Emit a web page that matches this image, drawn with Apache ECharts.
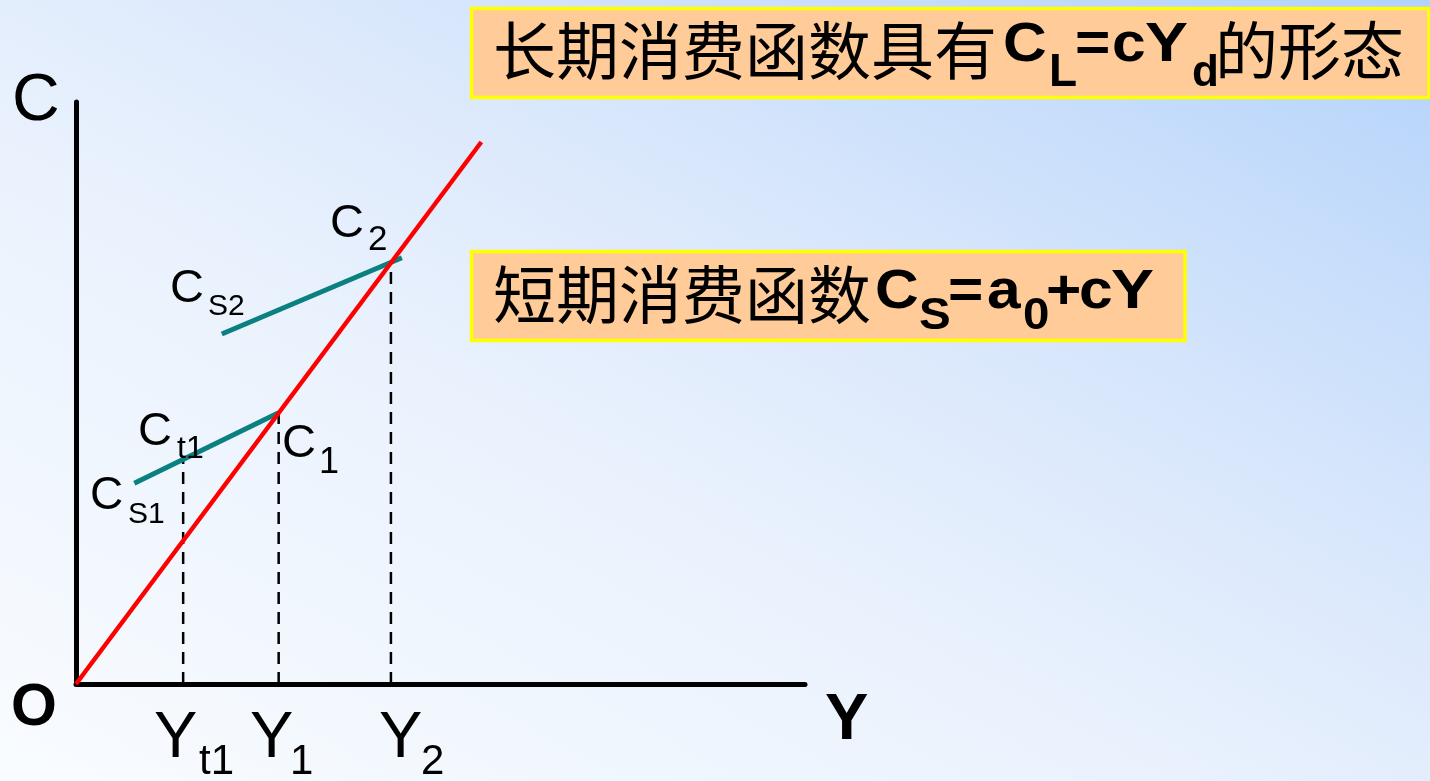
<!DOCTYPE html>
<html>
<head>
<meta charset="utf-8">
<script src="https://cdn.jsdelivr.net/npm/echarts@6/dist/echarts.min.js"></script>
<style>
  html, body { margin: 0; padding: 0; width: 1430px; height: 781px; overflow: hidden; }
  #main { width: 1430px; height: 781px; }
</style>
</head>
<body>
<div id="main"></div>
<script>
// Income levels marked on the horizontal axis: Y_t1, Y_1, Y_2
const incomeTicks = [14.7, 27.8, 43.2];
const incomeTickLabels = [['Y', 't1'], ['Y', '1'], ['Y', '2']];
// Consumption level where each dashed guide meets its consumption line
const guideTops = [30.9, 37.3, 57.9];
// Long-run consumption function C_L = cY_d, through the origin
const longRun = [[0, 0], [55.6, 74.5]];
// Short-run consumption functions C_S = a0 + cY
const shortRun1 = [[8.0, 27.6], [27.8, 37.3]];
const shortRun2 = [[20.0, 48.1], [44.7, 58.6]];

const LATIN = '"Liberation Sans", Arial, sans-serif';
const CJK = '"Noto Sans CJK SC", sans-serif';

// text placed by its alphabetic baseline
function txt(x, baseline, s, size, opts) {
  opts = opts || {};
  const family = opts.family || LATIN;
  const weight = opts.weight || 'normal';
  const y = opts.center !== undefined ? opts.center : baseline - 0.3465 * size;
  return {
    type: 'text', x: x, y: y, z: 100, silent: true,
    scaleX: opts.sx || 1,
    style: {
      text: s, font: weight + ' ' + size + 'px ' + family, fill: '#000',
      textAlign: 'left', textVerticalAlign: 'middle', align: 'left', verticalAlign: 'middle'
    }
  };
}

function box(x1, y1, x2, y2) {
  return {
    type: 'rect', z: 50, silent: true,
    shape: { x: x1, y: y1, width: x2 - x1, height: y2 - y1 },
    style: { fill: '#FFCC99', stroke: '#FFFF00', lineWidth: 3.5 }
  };
}

const graphics = [
  // page background: light at the lower left, deepening to blue at the upper right
  {
    type: 'rect', z: -100, silent: true,
    shape: { x: 0, y: 0, width: 1430, height: 781 },
    style: {
      fill: new echarts.graphic.LinearGradient(0, 781, 657, -422, [
        { offset: 0, color: '#f9fcff' },
        { offset: 0.4, color: '#eaf2fd' },
        { offset: 0.6, color: '#dce9fc' },
        { offset: 0.8, color: '#c8defb' },
        { offset: 1, color: '#b2d2fb' }
      ], true)
    }
  },
  // axis names
  txt(12, 125, 'C', 66),
  txt(11, 729, 'O', 59, { weight: 'bold' }),
  txt(825, 744, 'Y', 65, { weight: 'bold' }),
  // point labels
  txt(330, 240, 'C', 47), txt(368, 252, '2', 35),
  txt(170, 305, 'C', 47), txt(208, 317, 'S2', 30),
  txt(138, 448, 'C', 47), txt(177, 460, 't1', 32),
  txt(282, 460, 'C', 47), txt(319, 476, '1', 36),
  txt(90, 512, 'C', 46), txt(128, 525, 'S1', 30),
  // long-run caption
  box(471.5, 8.5, 1429, 97.5),
  txt(493, 0, '长期消费函数具有', 63, { family: CJK, center: 50 }),
  txt(1003, 65, 'C', 56, { weight: 'bold', sx: 1.08 }),
  txt(1049, 89, 'L', 46, { weight: 'bold', sx: 1.0 }),
  txt(1075, 65, '=', 56, { weight: 'bold', sx: 1.08 }),
  txt(1112, 65, 'c', 56, { weight: 'bold', sx: 1.08 }),
  txt(1145, 65, 'Y', 56, { weight: 'bold', sx: 1.15 }),
  txt(1192, 89, 'd', 44, { weight: 'bold' }),
  txt(1215, 0, '的形态', 63, { family: CJK, center: 50 }),
  // short-run caption
  box(471.5, 251.5, 1185, 340.5),
  txt(493, 0, '短期消费函数', 63, { family: CJK, center: 294 }),
  txt(875, 312, 'C', 56, { weight: 'bold', sx: 1.08 }),
  txt(919, 332, 'S', 44, { weight: 'bold', sx: 1.08 }),
  txt(948, 312, '=', 56, { weight: 'bold', sx: 1.08 }),
  txt(987, 312, 'a', 56, { weight: 'bold', sx: 1.08 }),
  txt(1023, 332, '0', 44, { weight: 'bold', sx: 1.08 }),
  txt(1046, 312, '+', 56, { weight: 'bold', sx: 1.08 }),
  txt(1079, 312, 'c', 56, { weight: 'bold', sx: 1.08 }),
  txt(1111, 312, 'Y', 56, { weight: 'bold', sx: 1.15 })
];

// income tick labels under the horizontal axis
const tickLabelPos = [[154, 199], [250, 290], [379, 421]];
incomeTickLabels.forEach(function (lab, i) {
  graphics.push(txt(tickLabelPos[i][0], 762, lab[0], 65));
  graphics.push(txt(tickLabelPos[i][1], 777, lab[1], 42));
});

const series = [];
incomeTicks.forEach(function (x, i) {
  series.push({
    type: 'line', data: [[x, 0], [x, guideTops[i]]], symbol: 'none', silent: true, z: 1,
    lineStyle: { color: '#000', width: 2.5, type: [12, 8] }
  });
});
[shortRun1, shortRun2].forEach(function (d) {
  series.push({
    type: 'line', data: d, symbol: 'none', silent: true, z: 2,
    lineStyle: { color: '#0a8080', width: 5, cap: 'butt' }
  });
});
series.push({
  type: 'line', data: longRun, symbol: 'none', silent: true, z: 3,
  lineStyle: { color: '#ff0000', width: 4.5, cap: 'butt' }
});

const axisCommon = {
  type: 'value', min: 0,
  axisLine: { show: true, onZero: true, lineStyle: { color: '#000', width: 5 } },
  axisTick: { show: false }, axisLabel: { show: false }, splitLine: { show: false }
};

const chart = echarts.init(document.getElementById('main'), null, { renderer: 'canvas' });
chart.setOption({
  animation: false,
  grid: { left: 76, top: 102, width: 729, height: 582 },
  xAxis: Object.assign({}, axisCommon, { max: 100 }),
  yAxis: Object.assign({}, axisCommon, { max: 80 }),
  graphic: graphics,
  series: series
});
</script>
</body>
</html>
